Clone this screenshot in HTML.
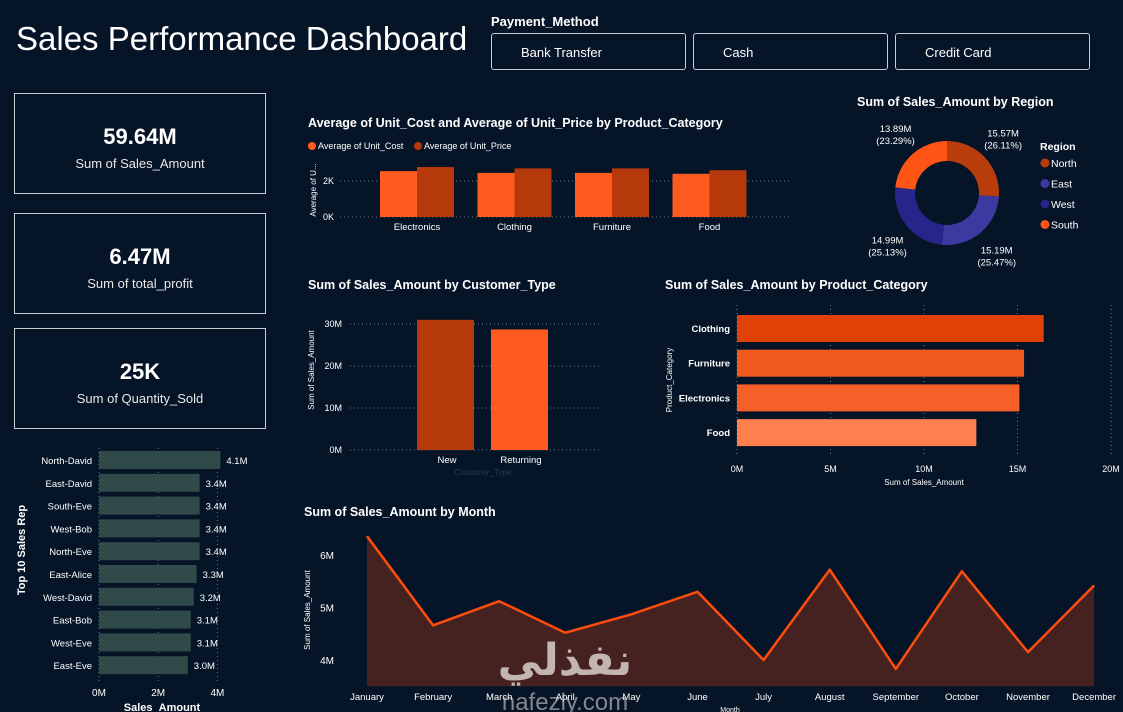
<!DOCTYPE html>
<html><head><meta charset="utf-8"><style>
body{margin:0;width:1123px;height:712px;background:#061427;overflow:hidden;font-family:"Liberation Sans Narrow","Liberation Sans",sans-serif;color:#fff;position:relative}
.card{position:absolute;left:14px;width:252px;height:99px;border:1px solid #c8cdd3;box-sizing:border-box;text-align:center}
.card .v{font-size:22px;font-weight:bold;margin-top:30px}
.card .l{font-size:13px;margin-top:6px;color:#e8e8e8}
.btn{position:absolute;top:33px;width:195px;height:37px;border:1px solid #c8cdd3;border-radius:3px;box-sizing:border-box;font-size:13px;line-height:37px;padding-left:29px;font-family:"Liberation Sans",sans-serif}
svg{position:absolute;left:0;top:0}
</style></head><body>
<div style="position:absolute;left:16px;top:20px;font-size:33px;font-family:'Liberation Sans',sans-serif">Sales Performance Dashboard</div>
<div style="position:absolute;left:491px;top:14px;font-size:13px;font-weight:bold;font-family:'Liberation Sans',sans-serif">Payment_Method</div>
<div class="btn" style="left:491px">Bank Transfer</div>
<div class="btn" style="left:693px">Cash</div>
<div class="btn" style="left:895px">Credit Card</div>
<div class="card" style="top:93px;height:101px"><div class="v">59.64M</div><div class="l">Sum of Sales_Amount</div></div>
<div class="card" style="top:213px;height:101px"><div class="v">6.47M</div><div class="l">Sum of total_profit</div></div>
<div class="card" style="top:328px;height:101px"><div class="v">25K</div><div class="l">Sum of Quantity_Sold</div></div>
<svg id="s" width="1123" height="712"></svg>
<script>
// Avg unit cost/price
const avgCats=["Electronics","Clothing","Furniture","Food"];
const avgCost=[2.55,2.45,2.45,2.4];
const avgPrice=[2.78,2.7,2.7,2.6];
// Region donut
const regions=["North","East","West","South"];
const regionVals=[15.57,15.19,14.99,13.89];
const regionPct=["26.11%","25.47%","25.13%","23.29%"];
// Customer type
const custCats=["New","Returning"];
const custVals=[31.0,28.7];
const custTicks=[0,10,20,30];
// Product category
const prodCats=["Clothing","Furniture","Electronics","Food"];
const prodVals=[16.4,15.35,15.1,12.8];
const prodTicks=[0,5,10,15,20];
// Sales reps
const reps=["North-David","East-David","South-Eve","West-Bob","North-Eve","East-Alice","West-David","East-Bob","West-Eve","East-Eve"];
const repVals=[4.1,3.4,3.4,3.4,3.4,3.3,3.2,3.1,3.1,3.0];
const repLabels=["4.1M","3.4M","3.4M","3.4M","3.4M","3.3M","3.2M","3.1M","3.1M","3.0M"];
const repTicks=[0,2,4];
// Monthly
const months=["January","February","March","April","May","June","July","August","September","October","November","December"];
const monthVals=[6.36,4.66,5.12,4.52,4.87,5.30,4.0,5.72,3.83,5.69,4.15,5.42];
const monthTicks=[4,5,6];

const S=document.getElementById('s');const NS="http://www.w3.org/2000/svg";
function mk(t,a,txt){const e=document.createElementNS(NS,t);for(const k in a)e.setAttribute(k,a[k]);if(txt!==undefined)e.textContent=txt;S.appendChild(e);return e;}
function txt(x,y,s,size,o){o=o||{};const e=mk('text',{x:x,y:y,fill:o.fill||'#fff','font-size':size,'text-anchor':o.anchor||'start','font-weight':o.bold?'bold':'normal','font-family':'"Liberation Sans Narrow","Liberation Sans",sans-serif',transform:o.rot||''},s);return e;}
function grid(x1,y1,x2,y2){const e=mk('line',{x1:x1,y1:y1,x2:x2,y2:y2,stroke:'#6a7a8c','stroke-dasharray':'1 3','stroke-width':1});}

// ---- Avg chart
let t=txt(308,127,"Average of Unit_Cost and Average of Unit_Price by Product_Category",12.5,{bold:1});

let c=mk('circle',{cx:312,cy:146,r:4,fill:'#ff5a1f'});
txt(318,149,"Average of Unit_Cost",9);
c=mk('circle',{cx:418,cy:146,r:4,fill:'#b5390a'});
txt(424,149,"Average of Unit_Price",9);
const ay=v=>217-v*18;
[0,2].forEach(v=>{grid(340,ay(v),790,ay(v));txt(334,ay(v)+3,v+"K",9,{anchor:'end'});});
txt(316,190,"Average of U...",8,{anchor:'middle',rot:'rotate(-90 316 190)'});
avgCats.forEach((cat,i)=>{const cx=417+i*97.5;
 let r=mk('rect',{x:cx-37,y:ay(avgCost[i]),width:37,height:ay(0)-ay(avgCost[i]),fill:'#ff5a1f'});
 r=mk('rect',{x:cx,y:ay(avgPrice[i]),width:37,height:ay(0)-ay(avgPrice[i]),fill:'#b5390a'});
 txt(cx,230,cat,9.5,{anchor:'middle'});});

// ---- Donut
t=txt(857,106,"Sum of Sales_Amount by Region",12.5,{bold:1});
const regCol=['#b83c0c','#3a3aa0','#25258a','#ff5414'];
const dcx=947,dcy=193,R=52,r0=32;const tot=regionVals.reduce((a,b)=>a+b,0);let ang=0;
regionVals.forEach((v,i)=>{const a0=ang,a1=ang+v/tot*2*Math.PI;ang=a1;
 const p=(a,rr)=>[dcx+rr*Math.sin(a),dcy-rr*Math.cos(a)];const lg=(a1-a0)>Math.PI?1:0;
 const [x0,y0]=p(a0,R),[x1,y1]=p(a1,R),[x2,y2]=p(a1,r0),[x3,y3]=p(a0,r0);
 const e=mk('path',{d:`M${x0},${y0}A${R},${R} 0 ${lg} 1 ${x1},${y1}L${x2},${y2}A${r0},${r0} 0 ${lg} 0 ${x3},${y3}Z`,fill:regCol[i]});
 
 const m=(a0+a1)/2;const [lx,ly]=p(m,R+22);const right=Math.sin(m)>0;
 const l1=txt(lx+(right?2:-2),ly+(Math.cos(m)>0?-6:4),regionVals[i].toFixed(2)+"M",9.5,{anchor:'middle'});
 txt(lx+(right?2:-2),ly+(Math.cos(m)>0?6:16),"("+regionPct[i]+")",9.5,{anchor:'middle'});});
txt(1040,150,"Region",10.5,{bold:1});
regions.forEach((rg,i)=>{let e=mk('circle',{cx:1045,cy:163+i*20.5,r:4.5,fill:regCol[i]});txt(1051,167+i*20.5,rg,10.5);});

// ---- Customer type
t=txt(308,289,"Sum of Sales_Amount by Customer_Type",12.5,{bold:1});
const cy=v=>450-v*4.2;
custTicks.forEach(v=>{grid(350,cy(v),600,cy(v));txt(342,cy(v)+3,v+"M",9,{anchor:'end'});});
txt(314,370,"Sum of Sales_Amount",8,{anchor:'middle',rot:'rotate(-90 314 370)'});
const custCol=['#b5390a','#ff5a1f'];
custCats.forEach((cat,i)=>{const cx=445+i*74;const r=mk('rect',{x:cx-28,y:cy(custVals[i]),width:57,height:cy(0)-cy(custVals[i]),fill:custCol[i]});
 txt(cx+2,463,cat,9.5,{anchor:'middle'});});
txt(483,475,"Customer_Type",8,{anchor:'middle',fill:'#2a3a4c'});

// ---- Product category
t=txt(665,289,"Sum of Sales_Amount by Product_Category",12.5,{bold:1});
const px=v=>737+v*18.7;
prodTicks.forEach(v=>{grid(px(v),305,px(v),455);txt(px(v),472,v+"M",9,{anchor:'middle'});});
txt(924,485,"Sum of Sales_Amount",8,{anchor:'middle'});
txt(672,380,"Product_Category",8,{anchor:'middle',rot:'rotate(-90 672 380)'});
const prodCol=['#e04206','#f05a1e','#f55f28','#ff7f4f'];
prodCats.forEach((cat,i)=>{const y=315+i*34.7;const r=mk('rect',{x:px(0),y:y,width:px(prodVals[i])-px(0),height:27,fill:prodCol[i]});
 txt(730,y+17,cat,9.5,{anchor:'end',bold:1});});

// ---- Sales reps
const rx=v=>99+v*29.6;
repTicks.forEach(v=>{grid(rx(v),448,rx(v),682);txt(rx(v),696,v+"M",10,{anchor:'middle'});});
txt(162,711,"Sales_Amount",11,{anchor:'middle',bold:1});
txt(25,550,"Top 10 Sales Rep",11,{anchor:'middle',bold:1,rot:'rotate(-90 25 550)'});
reps.forEach((n,i)=>{const y=451+i*22.8;const r=mk('rect',{x:rx(0),y:y,width:rx(repVals[i])-rx(0),height:18,fill:'#2f4a48'});
 
 txt(92,y+13,n,9.5,{anchor:'end'});txt(rx(repVals[i])+6,y+13,repLabels[i],9.5);});

// ---- Monthly
t=txt(304,516,"Sum of Sales_Amount by Month",12.5,{bold:1});
const mx=i=>367+i*66.1, my=v=>555+(6-v)*52.5, base=my(3.5);
monthTicks.forEach(v=>txt(334,my(v)+4,v+"M",10,{anchor:'end'}));
txt(310,610,"Sum of Sales_Amount",8,{anchor:'middle',rot:'rotate(-90 310 610)'});
let d=`M${mx(0)},${base}`;monthVals.forEach((v,i)=>d+=`L${mx(i)},${my(v)}`);d+=`L${mx(11)},${base}Z`;
let a=mk('path',{d:d,fill:'#45221f'});
let ld='';monthVals.forEach((v,i)=>ld+=(i?'L':'M')+mx(i)+','+my(v));
let ln=mk('path',{d:ld,fill:'none',stroke:'#ff4d0d','stroke-width':2.5,'stroke-linejoin':'round'});
months.forEach((m,i)=>txt(mx(i),700,m,9.5,{anchor:'middle'}));
txt(730,712,"Month",7,{anchor:'middle'});
// watermark
t=mk('text',{x:565,y:675,fill:'#d8cfcc','font-size':44,'font-weight':'bold','text-anchor':'middle','font-family':'"DejaVu Sans",sans-serif','opacity':0.85},"نفذلي");

t=mk('text',{x:565,y:710,fill:'#d8cfcc','font-size':24,'text-anchor':'middle','font-family':'"Liberation Sans",sans-serif','opacity':0.6},"nafezly.com");

</script>
</body></html>
